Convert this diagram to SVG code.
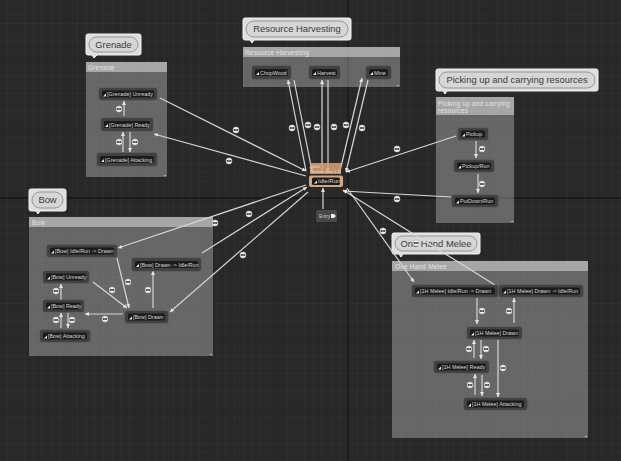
<svg xmlns="http://www.w3.org/2000/svg" width="621" height="461" viewBox="0 0 621 461">
<style>
text{font-family:"Liberation Sans",Arial,sans-serif}
.cbody{fill:#fff;fill-opacity:.29}
.chead{fill:#fff;fill-opacity:.42}
.ctitle{font-size:6.400px;fill:#e4e4e4;letter-spacing:.25px}
.bub{fill:#dedede;stroke:#f2f2f2;stroke-width:1}
.pill{fill:#d6d6d6;stroke:#7a7a7a;stroke-width:.7}
.btxt{font-size:9.400px;fill:#3a3a3a;text-anchor:middle}
.nout{fill:#414141;stroke:#4a4a4a;stroke-width:.6}
.nin{fill:#1b1b1b}
.ntxt{font-size:5.400px;fill:#d8d8d8}
.ico{fill:#f0f0f0}
.c{stroke:#d6d6d6;stroke-width:1.200;fill:none;marker-end:url(#a)}
.grip{fill:#cfcfcf}
</style>
<defs>
<marker id="a" markerUnits="userSpaceOnUse" markerWidth="5" markerHeight="5" refX="4" refY="2" orient="auto"><path d="M0,0 L4,2 L0,4 Z" fill="#e6e6e6"/></marker>
<pattern id="minor" patternUnits="userSpaceOnUse" width="8.75" height="8.75" x="6.75" y="5.5"><path d="M0,0H8.75M0,0V8.75" stroke="#333" stroke-width="1" fill="none"/></pattern>
<pattern id="major" patternUnits="userSpaceOnUse" width="70" height="70" x="68" y="58"><path d="M0,0H70M0,0V70" stroke="#1e1e1e" stroke-width="1" fill="none"/></pattern>
<g id="lab"><circle r="3.200" fill="#f0f0f0" stroke="#555" stroke-width=".3"/><rect x="-2.200" y="-1.100" width="4.400" height="2.200" rx=".6" fill="#333"/><rect x="-1.500" y="-.35" width="3" height=".7" fill="#ddd"/></g>
<path id="icn" d="M0,0L3,-3V0Z" class="ico"/>
</defs>
<rect width="621" height="461" fill="#282828"/>
<rect width="621" height="461" fill="url(#minor)"/>
<rect width="621" height="461" fill="url(#major)"/>
<path d="M0,198H621" stroke="#0e0e0e" stroke-width="1.200"/>
<path d="M348,0V461" stroke="#121212" stroke-width="1"/>

<g id="comment-grenade">
<rect class="cbody" x="86" y="62" width="81" height="115"/><rect class="chead" x="86" y="62" width="81" height="10"/>
<text class="ctitle" x="88" y="70">Grenade</text>
<path class="grip" d="M166,175V176H163Z"/>
<path class="bub" d="M88,34H139Q141,34 141,36V53Q141,55 139,55H97L94,58L92,55H88Q86,55 86,53V36Q86,34 88,34Z"/>
<rect class="pill" x="89" y="37" width="49" height="15" rx="7.500"/>
<text class="btxt" x="113.500" y="47.800">Grenade</text>
</g>
<g id="comment-resource">
<rect class="cbody" x="243" y="47" width="157" height="40"/><rect class="chead" x="243" y="47" width="157" height="10"/>
<text class="ctitle" x="245" y="55">Resource Harvesting</text>
<path class="grip" d="M399,85V86H396Z"/>
<path class="bub" d="M245,18H349Q351,18 351,20V38Q351,40 349,40H254L252,43L250,40H245Q243,40 243,38V20Q243,18 245,18Z"/>
<rect class="pill" x="246" y="21" width="102" height="16" rx="8"/>
<text class="btxt" x="297" y="32.300">Resource Harvesting</text>
</g>
<g id="comment-picking">
<rect class="cbody" x="436" y="97" width="78" height="126"/><rect class="chead" x="436" y="97" width="78" height="18"/>
<text class="ctitle" x="438" y="105.500">Picking up and carrying</text>
<text class="ctitle" x="438" y="113">resources</text>
<path class="grip" d="M513,221V222H510Z"/>
<path class="bub" d="M438,69H596Q598,69 598,71V89Q598,91 596,91H447L445,94L443,91H438Q436,91 436,89V71Q436,69 438,69Z"/>
<rect class="pill" x="439" y="72" width="156" height="16" rx="8"/>
<text class="btxt" x="517" y="83.300">Picking up and carrying resources</text>
</g>
<g id="comment-bow">
<rect class="cbody" x="29" y="217" width="184" height="139"/><rect class="chead" x="29" y="217" width="184" height="10"/>
<text class="ctitle" x="32" y="225">Bow</text>
<path class="grip" d="M212,354V355H209Z"/>
<path class="bub" d="M31,189H64Q66,189 66,191V209Q66,211 64,211H40L38,214L36,211H31Q29,211 29,209V191Q29,189 31,189Z"/>
<rect class="pill" x="32" y="192" width="31" height="16" rx="8"/>
<text class="btxt" x="47.500" y="203.300">Bow</text>
</g>
<g id="comment-melee">
<rect class="cbody" x="392" y="261" width="196" height="177"/><rect class="chead" x="392" y="261" width="196" height="10"/>
<text class="ctitle" x="395" y="269">One Hand Melee</text>
<path class="grip" d="M587,436V437H584Z"/>
<path class="bub" d="M394,233H478Q480,233 480,235V252Q480,254 478,254H403L401,257L399,254H394Q392,254 392,252V235Q392,233 394,233Z"/>
<rect class="pill" x="395" y="236" width="82" height="15" rx="7.500"/>
<text class="btxt" x="436" y="246.800">One Hand Melee</text>
</g>

<g id="connectors">
<path class="c" d="M160,98L306,171"/><path class="c" d="M306,176L154,134"/>
<path class="c" d="M306,171L288,80"/><path class="c" d="M294,80L312,171"/>
<path class="c" d="M322,173L322,80"/><path class="c" d="M328,80L328,172"/>
<path class="c" d="M340,171L362,78"/><path class="c" d="M368,80L346,172"/>
<path class="c" d="M456,136L346,172"/><path class="c" d="M451,197L343,191"/>
<path class="c" d="M347,188L414,282"/><path class="c" d="M495,285L343,190"/>
<path class="c" d="M306,185L118,248"/><path class="c" d="M202,253L307,187"/><path class="c" d="M308,192L170,312"/>
<path class="c" d="M323,209L323,188"/>
<path class="c" d="M124,116L124,101"/><path class="c" d="M123,152L123,132"/><path class="c" d="M130,132L130,152"/>
<path class="c" d="M476,141L476,158"/><path class="c" d="M478,174L478,193"/>
<path class="c" d="M117,258L129,308"/><path class="c" d="M93,282L127,308"/><path class="c" d="M153,308L153,271"/><path class="c" d="M123,314L85,314"/><path class="c" d="M61,300L61,284"/><path class="c" d="M61,328L61,313"/><path class="c" d="M68,313L68,328"/>
<path class="c" d="M477,298L477,324"/><path class="c" d="M514,323L514,298"/><path class="c" d="M474,358L474,340"/><path class="c" d="M481,340L481,359"/><path class="c" d="M498,340L498,397"/><path class="c" d="M475,395L475,374"/><path class="c" d="M482,375L482,396"/>
<use href="#lab" x="236" y="130"/><use href="#lab" x="229" y="161"/>
<use href="#lab" x="292" y="128"/><use href="#lab" x="308" y="125"/><use href="#lab" x="317" y="127"/><use href="#lab" x="334" y="127"/><use href="#lab" x="346" y="125"/><use href="#lab" x="362" y="128"/>
<use href="#lab" x="397" y="149"/><use href="#lab" x="397" y="199"/><use href="#lab" x="383" y="231"/><use href="#lab" x="416" y="243"/>
<use href="#lab" x="215" y="223"/><use href="#lab" x="249" y="214"/><use href="#lab" x="243" y="255"/>
<use href="#lab" x="119" y="109"/><use href="#lab" x="119" y="142"/><use href="#lab" x="135" y="142"/>
<use href="#lab" x="482" y="149"/><use href="#lab" x="482" y="184"/>
<use href="#lab" x="128" y="282"/><use href="#lab" x="112" y="290"/><use href="#lab" x="148" y="290"/><use href="#lab" x="56" y="291"/><use href="#lab" x="56" y="320"/><use href="#lab" x="72" y="320"/><use href="#lab" x="105" y="319"/>
<use href="#lab" x="482" y="311"/><use href="#lab" x="509" y="311"/><use href="#lab" x="469" y="349"/><use href="#lab" x="486" y="349"/><use href="#lab" x="503" y="368"/><use href="#lab" x="470" y="385"/><use href="#lab" x="487" y="385"/>
</g>

<g id="node-idle-header"><rect x="310" y="163" width="31" height="11" fill="#d9a27a" fill-opacity=".85"/><text x="311" y="168" font-size="3.500" fill="#f3e0d0">100%</text><text x="311" y="172.500" font-size="3.500" fill="#f3e0d0">Machine State 1.11</text></g>
<g id="node-idle"><rect x="309" y="175.500" width="34" height="11.500" rx="2" fill="#d9a57c"/><rect x="312" y="177.500" width="28" height="7.500" rx="1.500" fill="#1b1b1b"/><use href="#icn" x="314" y="183.500"/><text class="ntxt" x="318" y="183.400" style="font-size:6px">Idle/Run</text></g>
<g id="node-entry"><rect x="316" y="210" width="21" height="12" rx="1.500" fill="#484848"/><text x="319" y="217.500" font-size="4.800" fill="#ccc">Entry</text><path d="M331,214H334L336,216L334,218H331Z" fill="#eee"/></g>

<g id="node-gr-unready"><rect class="nout" x="99" y="88" width="58" height="12" rx="2"/><rect class="nin" x="102" y="90.500" width="52" height="7" rx="1.500"/><use href="#icn" x="103" y="96.500"/><text class="ntxt" x="107" y="96">[Grenade] Unready</text></g>
<g id="node-gr-ready"><rect class="nout" x="101" y="118" width="52" height="13" rx="2"/><rect class="nin" x="104" y="121" width="46" height="7" rx="1.500"/><use href="#icn" x="105" y="127"/><text class="ntxt" x="109" y="126.500">[Grenade] Ready</text></g>
<g id="node-gr-attacking"><rect class="nout" x="97" y="153" width="60" height="13" rx="2"/><rect class="nin" x="100" y="156" width="54" height="7" rx="1.500"/><use href="#icn" x="101" y="162"/><text class="ntxt" x="105" y="161.500">[Grenade] Attacking</text></g>

<g id="node-chopwood"><rect class="nout" x="252" y="66" width="39" height="13" rx="2"/><rect class="nin" x="255" y="69" width="33" height="7" rx="1.500"/><use href="#icn" x="256" y="75"/><text class="ntxt" x="260" y="74.500">ChopWood</text></g>
<g id="node-harvest"><rect class="nout" x="309" y="66" width="31" height="13" rx="2"/><rect class="nin" x="312" y="69" width="25" height="7" rx="1.500"/><use href="#icn" x="313" y="75"/><text class="ntxt" x="317" y="74.500">Harvest</text></g>
<g id="node-mine"><rect class="nout" x="366" y="66" width="25" height="13" rx="2"/><rect class="nin" x="369" y="69" width="19" height="7" rx="1.500"/><use href="#icn" x="370" y="75"/><text class="ntxt" x="374" y="74.500">Mine</text></g>

<g id="node-pickup"><rect class="nout" x="458" y="128" width="30" height="12" rx="2"/><rect class="nin" x="461" y="130.500" width="24" height="7" rx="1.500"/><use href="#icn" x="462" y="136.500"/><text class="ntxt" x="466" y="136">Pickup</text></g>
<g id="node-pickuprun"><rect class="nout" x="454" y="160" width="40" height="12" rx="2"/><rect class="nin" x="457" y="162.500" width="34" height="7" rx="1.500"/><use href="#icn" x="458" y="168.500"/><text class="ntxt" x="462" y="168">Pickup/Run</text></g>
<g id="node-putdown"><rect class="nout" x="452" y="195" width="46" height="12" rx="2"/><rect class="nin" x="455" y="197.500" width="40" height="7" rx="1.500"/><use href="#icn" x="456" y="203.500"/><text class="ntxt" x="460" y="203">PutDown/Run</text></g>

<g id="node-bow-idle-drawn"><rect class="nout" x="47" y="245" width="70" height="12" rx="2"/><rect class="nin" x="50" y="247.500" width="64" height="7" rx="1.500"/><use href="#icn" x="51" y="253.500"/><text class="ntxt" x="55" y="253">[Bow] Idle/Run -&gt; Drawn</text></g>
<g id="node-bow-drawn-idle"><rect class="nout" x="132" y="258" width="69" height="13" rx="2"/><rect class="nin" x="135" y="261" width="63" height="7" rx="1.500"/><use href="#icn" x="136" y="267"/><text class="ntxt" x="140" y="266.500">[Bow] Drawn -&gt; Idle/Run</text></g>
<g id="node-bow-unready"><rect class="nout" x="43" y="271" width="46" height="12" rx="2"/><rect class="nin" x="46" y="273.500" width="40" height="7" rx="1.500"/><use href="#icn" x="47" y="279.500"/><text class="ntxt" x="51" y="279">[Bow] Unready</text></g>
<g id="node-bow-ready"><rect class="nout" x="43" y="300" width="41" height="12" rx="2"/><rect class="nin" x="46" y="302.500" width="35" height="7" rx="1.500"/><use href="#icn" x="47" y="308.500"/><text class="ntxt" x="51" y="308">[Bow] Ready</text></g>
<g id="node-bow-attacking"><rect class="nout" x="40" y="330" width="50" height="12" rx="2"/><rect class="nin" x="43" y="332.500" width="44" height="7" rx="1.500"/><use href="#icn" x="44" y="338.500"/><text class="ntxt" x="48" y="338">[Bow] Attacking</text></g>
<g id="node-bow-drawn"><rect class="nout" x="125" y="311" width="43" height="12" rx="2"/><rect class="nin" x="128" y="313.500" width="37" height="7" rx="1.500"/><use href="#icn" x="129" y="319.500"/><text class="ntxt" x="133" y="319">[Bow] Drawn</text></g>

<g id="node-1h-idle-drawn"><rect class="nout" x="412" y="285" width="86" height="12" rx="2"/><rect class="nin" x="415" y="287.500" width="80" height="7" rx="1.500"/><use href="#icn" x="416" y="293.500"/><text class="ntxt" x="420" y="293">[1H Melee] Idle/Run -&gt; Drawn</text></g>
<g id="node-1h-drawn-idle"><rect class="nout" x="499" y="285" width="84" height="12" rx="2"/><rect class="nin" x="502" y="287.500" width="78" height="7" rx="1.500"/><use href="#icn" x="503" y="293.500"/><text class="ntxt" x="507" y="293">[1H Melee] Drawn -&gt; Idle/Run</text></g>
<g id="node-1h-drawn"><rect class="nout" x="467" y="327" width="55" height="12" rx="2"/><rect class="nin" x="470" y="329.500" width="49" height="7" rx="1.500"/><use href="#icn" x="471" y="335.500"/><text class="ntxt" x="475" y="335">[1H Melee] Drawn</text></g>
<g id="node-1h-ready"><rect class="nout" x="434" y="361" width="55" height="12" rx="2"/><rect class="nin" x="437" y="363.500" width="49" height="7" rx="1.500"/><use href="#icn" x="438" y="369.500"/><text class="ntxt" x="442" y="369">[1H Melee] Ready</text></g>
<g id="node-1h-attacking"><rect class="nout" x="464" y="398" width="63" height="12" rx="2"/><rect class="nin" x="467" y="400.500" width="57" height="7" rx="1.500"/><use href="#icn" x="468" y="406.500"/><text class="ntxt" x="472" y="406">[1H Melee] Attacking</text></g>
</svg>
